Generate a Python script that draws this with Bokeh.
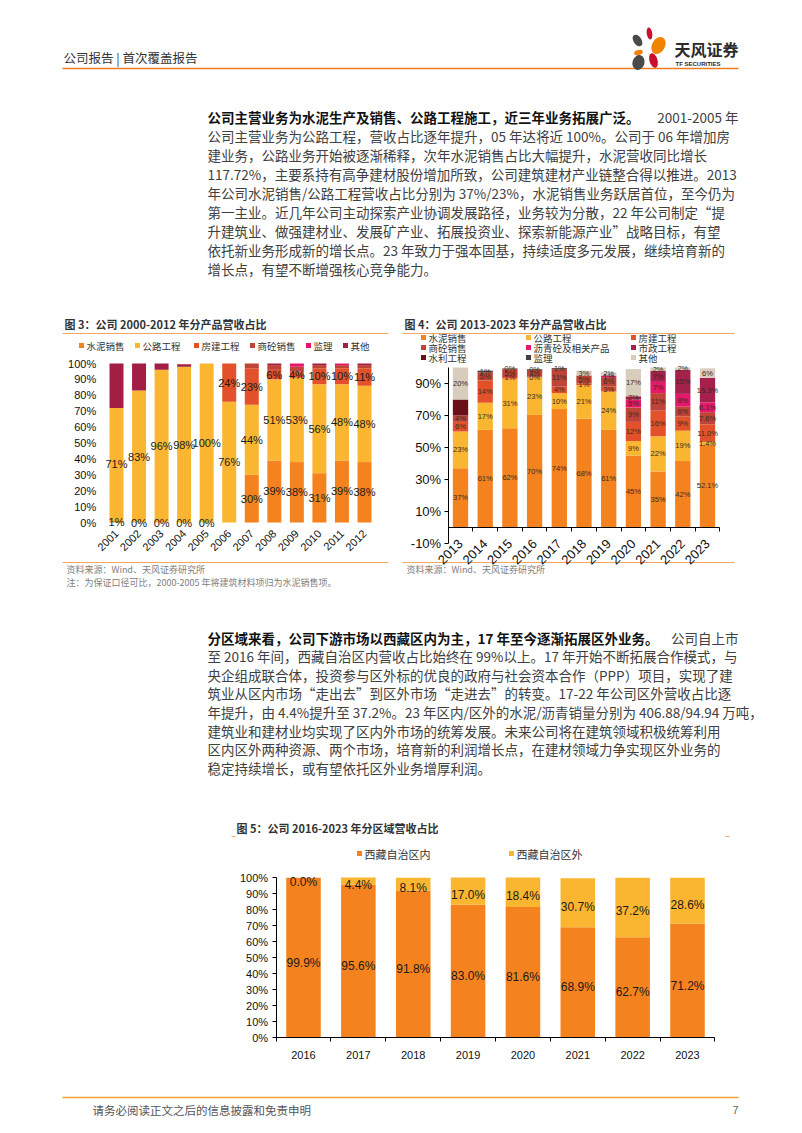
import math
import numpy as np
from bokeh.plotting import figure
from bokeh.models import Range1d, LinearAxis, FixedTicker, PrintfTickFormatter, ColumnDataSource
from bokeh.core.properties import value
from bokeh.embed import file_html
from bokeh.resources import INLINE

CJK = "Noto Sans CJK SC"
LAT = "Liberation Sans"

# ------------------------------------------------------------------ data
# Figure 3: 2001-2012 revenue share by product (%)
years3 = ["2001", "2002", "2003", "2004", "2005", "2006", "2007", "2008", "2009", "2010", "2011", "2012"]
names3 = ["水泥销售", "公路工程", "房建工程", "商砼销售", "监理", "其他"]
cement3 = [1, 0, 0, 0, 0, None, 30, 39, 38, 31, 39, 38]
road3 = [71, 83, 96, 98, 100, 76, 44, 51, 53, 56, 48, 48]
housing3 = [0, 0, 0, 0, 0, 24, 23, 6, 4, 10, 10, 11]
concrete3 = [0, 0, 0, 0, 0, 0, 3, 3, 3, 2, 2, 2]
supervision3 = [0, 0, 0, 0, 0, 0, 0, 0, 2, 0, 1, 0]
other3 = [28, 17, 4, 1.5, 0, 0, 0, 1, 0, 1, 0, 1]
yticks3 = [0, 10, 20, 30, 40, 50, 60, 70, 80, 90, 100]

# Figure 4: 2013-2023 revenue share by product (%)
years4 = ["2013", "2014", "2015", "2016", "2017", "2018", "2019", "2020", "2021", "2022", "2023"]
names4 = ["水泥销售", "公路工程", "房建工程", "商砼销售", "沥青砼及相关产品", "市政工程", "水利工程", "监理", "其他"]
cement4 = [37, 61, 62, 70.4, 74, 68, 61, 45, 35, 41.5, 52.1]
road4 = [23, 17, 31, 23.4, 10, 21, 24, 9, 22, 19, 1.4]
housing4 = [6, 14, 1, 0.4, 4, 1, 3, 12, 16, 9, 11.0]
concrete4 = [4, 5, 5, 4.4, 11, 5, 6, 9, 11, 6, 7.6]
asphalt4 = [0, 0, 0, 0, 0, 0, 1, 5, 7, 8, 6.1]
municipal4 = [0, 0, 0, 0, 0, 0, 0, 2, 7, 15, 15.3]
water4 = [10, 0, 0, 0, 0, 0, 0, 0, 0, 0, 0]
supervision4 = [0, 1, 0.4, 0.4, 0.6, 0, 0, 0, 0, 0, 0]
other4 = [20, 0, 0, 0, 0, 3, 2, 17, 2, 1.5, 6]
yticks4 = [-10, 10, 30, 50, 70, 90]

# Figure 5: 2016-2023 revenue share by region (%)
years5 = ["2016", "2017", "2018", "2019", "2020", "2021", "2022", "2023"]
names5 = ["西藏自治区内", "西藏自治区外"]
inside5 = [99.9, 95.6, 91.8, 83.0, 81.6, 68.9, 62.7, 71.2]
outside5 = [0.0, 4.4, 8.1, 17.0, 18.4, 30.7, 37.2, 28.6]
yticks5 = [0, 10, 20, 30, 40, 50, 60, 70, 80, 90, 100]

# ------------------------------------------------------------------ text
header = "公司报告 | 首次覆盖报告"
para1_bold = "公司主营业务为水泥生产及销售、公路工程施工，近三年业务拓展广泛。"
para1_tail = "2001-2005 年"
para1 = [
    "公司主营业务为公路工程，营收占比逐年提升，05 年达将近 100%。公司于 06 年增加房",
    "建业务，公路业务开始被逐渐稀释，次年水泥销售占比大幅提升，水泥营收同比增长",
    "117.72%，主要系持有高争建材股份增加所致，公司建筑建材产业链整合得以推进。2013",
    "年公司水泥销售/公路工程营收占比分别为 37%/23%，水泥销售业务跃居首位，至今仍为",
    "第一主业。近几年公司主动探索产业协调发展路径，业务较为分散，22 年公司制定“提",
    "升建筑业、做强建材业、发展矿产业、拓展投资业、探索新能源产业”战略目标，有望",
    "依托新业务形成新的增长点。23 年致力于强本固基，持续适度多元发展，继续培育新的",
    "增长点，有望不断增强核心竞争能力。",
]
para2_bold = "分区域来看，公司下游市场以西藏区内为主，17 年至今逐渐拓展区外业务。"
para2_tail = "公司自上市"
para2 = [
    "至 2016 年间，西藏自治区内营收占比始终在 99%以上。17 年开始不断拓展合作模式，与",
    "央企组成联合体，投资参与区外标的优良的政府与社会资本合作（PPP）项目，实现了建",
    "筑业从区内市场“走出去”到区外市场“走进去”的转变。17-22 年公司区外营收占比逐",
    "年提升，由 4.4%提升至 37.2%。23 年区内/区外的水泥/沥青销量分别为 406.88/94.94 万吨，",
    "建筑业和建材业均实现了区内外市场的统筹发展。未来公司将在建筑领域积极统筹利用",
    "区内区外两种资源、两个市场，培育新的利润增长点，在建材领域力争实现区外业务的",
    "稳定持续增长，或有望依托区外业务增厚利润。",
]
title3 = "图 3：公司 2000-2012 年分产品营收占比"
title4 = "图 4：公司 2013-2023 年分产品营收占比"
title5 = "图 5：公司 2016-2023 年分区域营收占比"
source = "资料来源：Wind、天风证券研究所"
note3 = "注：为保证口径可比，2000-2005 年将建筑材料项归为水泥销售项。"
footer = "请务必阅读正文之后的信息披露和免责申明"

# ------------------------------------------------------------------ colours
C_CEM = "#F4831F"
C_ROAD = "#FBB631"
C_HOUSE = "#E3512A"
C_CONC = "#BF4438"
colors3 = [C_CEM, C_ROAD, C_HOUSE, C_CONC, "#E5176B", "#A21E45"]
colors4 = [C_CEM, C_ROAD, C_HOUSE, C_CONC, "#E5186B", "#A5214C", "#6B1017", "#404040", "#D8CDBD"]
colors5 = [C_CEM, C_ROAD]
ORANGE_LINE = "#EC7C22"
LIGHT_LINE = "#F2A766"

# ------------------------------------------------------------------ page canvas (page pixel coordinates)
W, H = 800, 1130
LEFT, TOP = 0, 0


def page_range_x(v0, p0, v1, p1):
    b = (p1 - p0) / (v1 - v0)
    a = p0 - b * v0
    return Range1d(start=(LEFT - a) / b, end=(LEFT + W - a) / b)


def page_range_y(v0, p0, v1, p1):
    b = (p1 - p0) / (v1 - v0)
    a = p0 - b * v0
    return Range1d(start=(TOP + H - a) / b, end=(TOP - a) / b)


p = figure(width=W, height=H, x_range=Range1d(LEFT, LEFT + W), y_range=Range1d(TOP + H, TOP),
           x_axis_type=None, y_axis_type=None, min_border=0, toolbar_location=None, tools="",
           output_backend="svg")
p.outline_line_color = None
p.background_fill_color = "white"
p.border_fill_color = "white"

p.extra_x_ranges = {
    "x3": page_range_x(0, 116, 11, 364),
    "x4": page_range_x(0, 460, 10, 707),
    "x5": page_range_x(0, 303, 7, 687),
}
p.extra_y_ranges = {
    "y3": page_range_y(0, 522, 100, 363),
    "y4": page_range_y(0, 527, 100, 367),
    "y5": page_range_y(0, 1037, 100, 877),
}


def txt(x, y, s, size, color="#333333", font=CJK, bold=False, align="left"):
    xs = x if isinstance(x, list) else [x]
    ys = y if isinstance(y, list) else [y]
    ss = s if isinstance(s, list) else [s]
    p.text(x=xs, y=ys, text=ss, text_font=value(font), text_font_size=f"{size}px",
           text_color=color, text_align=align, text_baseline="middle",
           text_font_style="bold" if bold else "normal")


def hline(x0, x1, y, color, w=1.0):
    p.segment(x0=[x0], y0=[y], x1=[x1], y1=[y], line_color=color, line_width=w)


def stacked(xname, yname, series, colors, width):
    n = len(series[0])
    xs = list(range(n))
    acc = np.zeros(n)
    parts = []
    for vals, col in zip(series, colors):
        v = np.array([np.nan if s is None else s for s in vals], dtype=float)
        h = np.nan_to_num(v)
        src = ColumnDataSource(dict(x=xs, bottom=acc.copy(), top=acc + h))
        p.vbar(x="x", bottom="bottom", top="top", width=width, source=src,
               fill_color=col, line_color=None, x_range_name=xname, y_range_name=yname)
        parts.append((v, acc.copy()))
        acc = acc + h
    return parts


def bar_labels(xname, yname, v, bottom, fmt, size, color="#1a1a1a", yoff=0, keep=None):
    xs, ys, ts = [], [], []
    for i, (val, b) in enumerate(zip(v, bottom)):
        if np.isnan(val):
            continue
        if keep is not None and not keep(val):
            continue
        xs.append(i)
        ys.append(b + val / 2)
        ts.append(fmt(val, i))
    p.text(x=xs, y=ys, text=ts, x_range_name=xname, y_range_name=yname,
           text_align="center", text_baseline="middle", text_font=value(LAT),
           text_font_size=f"{size}px", text_color=color, y_offset=yoff)


def cat_axis(xname, yname, years, size, standoff, rotate, line_color, boundary_ticks):
    n = len(years)
    minor = [i - 0.5 for i in range(n + 1)] if boundary_ticks else []
    ax = LinearAxis(x_range_name=xname, y_range_name=yname, fixed_location=0,
                    bounds=(-0.5, n - 0.5), ticker=FixedTicker(ticks=list(range(n)), minor_ticks=minor))
    ax.major_label_overrides = {i: y for i, y in enumerate(years)}
    if rotate:
        ax.major_label_orientation = math.pi / 4
    ax.axis_line_color = line_color
    ax.axis_line_width = 1
    ax.major_tick_line_color = None
    ax.major_tick_out = 0
    ax.major_tick_in = 0
    ax.minor_tick_line_color = "black" if boundary_ticks else None
    ax.minor_tick_out = 4
    ax.minor_tick_in = 0
    ax.major_label_text_font = LAT
    ax.major_label_text_font_size = f"{size}px"
    ax.major_label_text_color = "#111111"
    ax.major_label_standoff = standoff
    p.add_layout(ax, "below")


def pct_axis(xname, yname, ticks, lo, hi, size, standoff, line_color, tick_out):
    ay = LinearAxis(x_range_name=xname, y_range_name=yname, fixed_location=-0.5, bounds=(lo, hi),
                    ticker=FixedTicker(ticks=ticks, minor_ticks=[]),
                    formatter=PrintfTickFormatter(format="%d%%"))
    ay.axis_line_color = line_color
    ay.major_tick_line_color = line_color
    ay.major_tick_out = tick_out
    ay.major_tick_in = 0
    ay.minor_tick_line_color = None
    ay.major_label_text_font = LAT
    ay.major_label_text_font_size = f"{size}px"
    ay.major_label_text_color = "#111111"
    ay.major_label_standoff = standoff
    p.add_layout(ay, "left")


# ------------------------------------------------------------------ header
txt(63, 57, header, 12.5, "#333333")
hline(62, 738, 68, ORANGE_LINE, 1.6)
petals = dict(x=[649, 637, 658, 638, 638, 653], y=[33, 40, 45, 52, 62, 60],
              w=[5.5, 8, 13, 9, 12, 8], h=[12, 13, 18, 5, 15, 15],
              a=[0.15, 0.6, -0.5, 0.3, -0.3, 0.3],
              c=["#C8102E", "#4A4A4A", "#F08300", "#F08300", "#4A4A4A", "#C8102E"])
p.ellipse(x=petals["x"], y=petals["y"], width=petals["w"], height=petals["h"], angle=petals["a"],
          fill_color=petals["c"], line_color=None)
txt(674, 48, "天风证券", 16, "#2b2b2b", bold=True)
txt(675, 63, "TF SECURITIES", 6, "#2b2b2b", font=LAT, bold=True)

# ------------------------------------------------------------------ paragraph 1
P_X, P_R, P_SIZE = 207, 738, 13.5
P1_Y, P1_STEP = 116, 19.0
txt(P_X, P1_Y, para1_bold, P_SIZE, "#111111", bold=True)
txt(P_R, P1_Y, para1_tail, P_SIZE, "#404040", align="right")
txt([P_X] * len(para1), [P1_Y + P1_STEP * (i + 1) for i in range(len(para1))], para1, P_SIZE, "#404040")

# ------------------------------------------------------------------ figure 3
txt(64, 323, title3, 11, "#333333", bold=True)
hline(62, 388, 333, LIGHT_LINE, 1)
leg3_x = [81, 137, 196, 252, 308, 345]
p.rect(x=leg3_x, y=[345] * 6, width=5, height=5, fill_color=colors3, line_color=None)
txt([x + 5 for x in leg3_x], [345] * 6, names3, 9.5, "#333333")

parts3 = stacked("x3", "y3", [cement3, road3, housing3, concrete3, supervision3, other3], colors3, 0.62)
fmt0 = lambda v, i: f"{v:.0f}%"
bar_labels("x3", "y3", *parts3[0], fmt0, 11)
bar_labels("x3", "y3", *parts3[1], fmt0, 11, keep=lambda v: v > 0)
bar_labels("x3", "y3", *parts3[2], fmt0, 11, keep=lambda v: v > 0)
pct_axis("x3", "y3", yticks3, 0, 100, 11, 9, None, 0)
cat_axis("x3", "y3", years3, 11, 9, True, None, False)

hline(62, 388, 562, LIGHT_LINE, 1)
txt(66, 569, source, 9, "#808080")
txt(66, 582, note3, 9, "#808080")

# ------------------------------------------------------------------ figure 4
txt(404, 323, title4, 11, "#333333", bold=True)
hline(402, 734, 333, LIGHT_LINE, 1)
leg4_x = [423, 528, 633]
leg4_y = [337, 347, 357]
lx = [leg4_x[k % 3] for k in range(9)]
ly = [leg4_y[k // 3] for k in range(9)]
p.rect(x=lx, y=ly, width=5, height=5, fill_color=colors4, line_color=None)
txt([x + 5 for x in lx], ly, names4, 9.5, "#333333")

parts4 = stacked("x4", "y4", [cement4, road4, housing4, concrete4, asphalt4, municipal4,
                              water4, supervision4, other4], colors4, 0.62)
for k, (vals, bottoms) in enumerate(parts4):
    if names4[k] == "水利工程":
        continue
    one_dec = names4[k] != "其他"
    fmt4 = (lambda v, i, d=one_dec: f"{v:.1f}%" if (d and years4[i] == "2023") else f"{v:.0f}%")
    bar_labels("x4", "y4", vals, bottoms, fmt4, 7.5, "#3a2a20", keep=lambda v: v > 0)
pct_axis("x4", "y4", yticks4, -10, 100, 13, 3, "black", 4)
cat_axis("x4", "y4", years4, 13, 10, True, "black", True)

hline(402, 734, 562, LIGHT_LINE, 1)
txt(406, 569, source, 9, "#808080")

# ------------------------------------------------------------------ paragraph 2
P2_Y, P2_STEP = 637, 18.6
txt(P_X, P2_Y, para2_bold, P_SIZE, "#111111", bold=True)
txt(P_R, P2_Y, para2_tail, P_SIZE, "#404040", align="right")
txt([P_X] * len(para2), [P2_Y + P2_STEP * (i + 1) for i in range(len(para2))], para2, P_SIZE, "#404040")

# ------------------------------------------------------------------ figure 5
txt(236, 827, title5, 11, "#333333", bold=True)
hline(231, 235, 836, LIGHT_LINE, 1)
hline(725, 729, 836, LIGHT_LINE, 1)
leg5_x = [359, 511]
p.rect(x=leg5_x, y=[853, 853], width=5, height=5, fill_color=colors5, line_color=None)
txt([x + 5 for x in leg5_x], [853, 853], names5, 11, "#333333")

parts5 = stacked("x5", "y5", [inside5, outside5], colors5, 0.63)
fmt1 = lambda v, i: f"{v:.1f}%"
bar_labels("x5", "y5", *parts5[0], fmt1, 12, yoff=5)
bar_labels("x5", "y5", *parts5[1], fmt1, 12, yoff=4)
pct_axis("x5", "y5", yticks5, 0, 100, 11, 4, "black", 4)
cat_axis("x5", "y5", years5, 11, 9, False, "black", True)

# ------------------------------------------------------------------ footer
hline(62, 738, 1097, "#EFA02E", 1.6)
txt(92, 1109, footer, 11.5, "#555555")
txt(738, 1109, "7", 11, "#666666", font=LAT, align="right")

open("out.html", "w").write(file_html(p, INLINE))
